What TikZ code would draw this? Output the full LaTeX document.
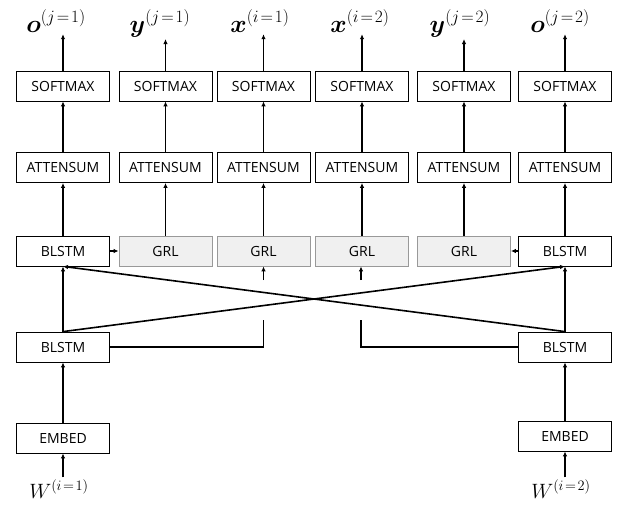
\documentclass[tikz,border=0pt]{standalone}
\usepackage{amsmath}
\usepackage{bm}
\usepackage{fontspec}
\newfontfamily\boxfont{Open Sans}
\usetikzlibrary{arrows.meta}
\newcommand\supx[2]{^{\mbox{\fontsize{#1}{#1}\selectfont$#2$}}}
\newcommand\eqx{\!=\!}
\begin{document}
\begin{tikzpicture}[x=1pt,y=-1pt,
  box/.style={draw=black, line width=0.8pt, minimum width=93pt, minimum height=30pt, inner sep=0pt, font=\boxfont\fontsize{14}{14}\selectfont},
  grl/.style={box, draw=black!40, fill=black!6},
  arr/.style={-{Latex[length=5pt,width=4.5pt]}, line width=1.6pt},
  ln/.style={line width=1.6pt},
  lbl/.style={font=\fontsize{24}{24}\selectfont, inner sep=2pt, anchor=base},
  wlbl/.style={font=\fontsize{20}{20}\selectfont, inner sep=2pt, anchor=base}]
\useasboundingbox (0,0) rectangle (619,512);
% top row
\foreach \n/\x in {1/63,2/165.5,3/263.5,4/362,5/464,6/565}{
  \node[box] (s\n) at (\x,86) {SOFTMAX};
  \node[box] (a\n) at (\x,167.5) {ATTENSUM};
}
\node[box] (b1) at (63,251) {BLSTM};
\node[grl] (g2) at (165.5,251) {GRL};
\node[grl] (g3) at (263.5,251) {GRL};
\node[grl] (g4) at (362,251) {GRL};
\node[grl] (g5) at (464,251) {GRL};
\node[box] (b6) at (565,251) {BLSTM};
\node[box] (l1) at (63,347) {BLSTM};
\node[box] (l6) at (565,347) {BLSTM};
\node[box] (e1) at (63,438) {EMBED};
\node[box] (e6) at (565,436) {EMBED};
% labels
\node[lbl] (t1) at (56,32) {$\bm{o}\supx{17}{(j\eqx 1)}$};
\node[lbl] (t2) at (160,32) {$\bm{y}\supx{17}{(j\eqx 1)}$};
\node[lbl] (t3) at (260,32) {$\bm{x}\supx{17}{(i\eqx 1)}$};
\node[lbl] (t4) at (360,32) {$\bm{x}\supx{17}{(i\eqx 2)}$};
\node[lbl] (t5) at (460,32) {$\bm{y}\supx{17}{(j\eqx 2)}$};
\node[lbl] (t6) at (560,32) {$\bm{o}\supx{17}{(j\eqx 2)}$};
\node[wlbl] (w1) at (59,498) {$W\supx{15}{(i\eqx 1)}$};
\node[wlbl] (w6) at (561,498) {$W\supx{15}{(i\eqx 2)}$};
% arrows upward
\foreach \n in {1,...,6}{
  \draw[arr] (s\n.north) -- (s\n.north |- t\n.south);
  \draw[arr] (a\n.north) -- (s\n.south);
}
\draw[arr] (b1.north) -- (a1.south);
\draw[arr] (g2.north) -- (a2.south);
\draw[arr] (g3.north) -- (a3.south);
\draw[arr] (g4.north) -- (a4.south);
\draw[arr] (g5.north) -- (a5.south);
\draw[arr] (b6.north) -- (a6.south);
\draw[arr] (b1.east) -- (g2.west);
\draw[arr] (b6.west) -- (g5.east);
\draw[arr] (l1.north) -- (b1.south);
\draw[arr] (l6.north) -- (b6.south);
\draw[arr] (l1.north) -- (b6.south);
\draw[arr] (l6.north) -- (b1.south);
\draw[arr] (e1.north) -- (l1.south);
\draw[arr] (e6.north) -- (l6.south);
\draw[arr] (e1.south |- w1.north) -- (e1.south);
\draw[arr] (e6.south |- w6.north) -- (e6.south);
% GRL feeds with gaps
\coordinate (c3a) at (263.5,320);
\coordinate (c3b) at (263.5,280);
\coordinate (c4a) at (361,320);
\coordinate (c4b) at (361,280);
\draw[ln] (l1.east) -| (c3a);
\draw[ln] (l6.west) -| (c4a);
\draw[arr] (c3b) -- (c3b |- g3.south);
\draw[arr] (c4b) -- (c4b |- g4.south);
\end{tikzpicture}
\end{document}
